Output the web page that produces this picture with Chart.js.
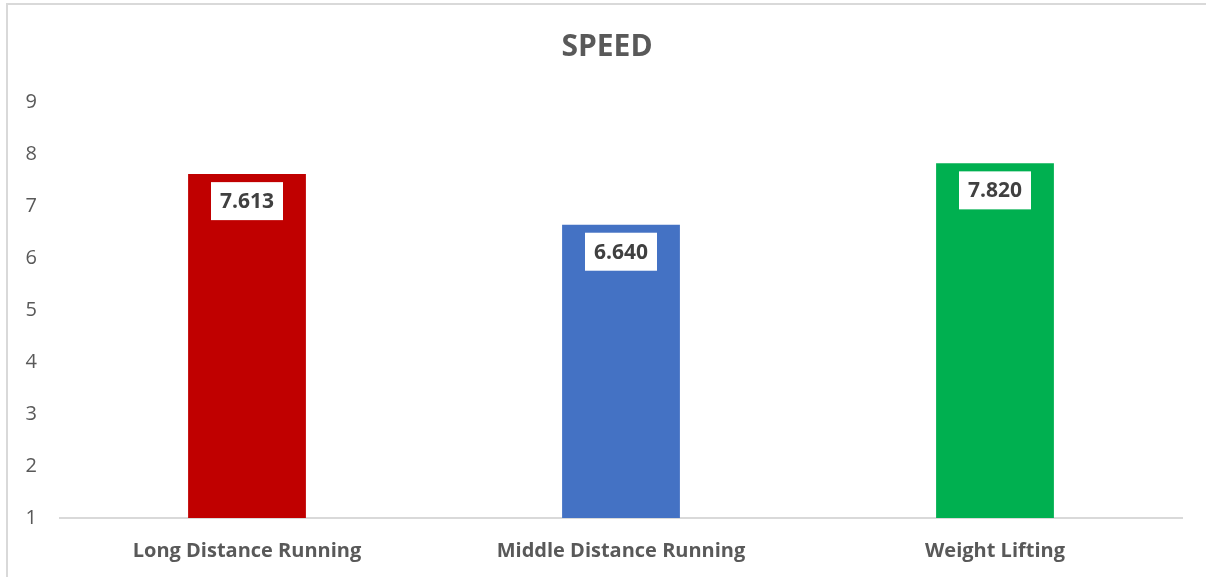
<!DOCTYPE html>
<html>
<head>
<meta charset="utf-8">
<script src="https://cdn.jsdelivr.net/npm/chart.js@4/dist/chart.umd.min.js"></script>
<style>
  html, body { margin: 0; padding: 0; background: #fff; }
  #wrap { width: 1206px; height: 577px; position: relative; }
</style>
</head>
<body>
<div id="wrap"><canvas id="speedChart"></canvas></div>
<script>
const chartTitle = "SPEED";
const categories = ["Long Distance Running", "Middle Distance Running", "Weight Lifting"];
const speeds = [7.613, 6.640, 7.820];
const barColors = ["#C00000", "#4472C4", "#00B050"];
const yTicks = [1, 2, 3, 4, 5, 6, 7, 8, 9];

const fontFamily = "'Open Sans', sans-serif";

// frame of the chart box (only top and left edges show in the crop) + title
const framePlugin = {
  id: "frame",
  beforeDraw(chart) {
    const c = chart.ctx;
    c.save();
    c.strokeStyle = "#d9d9d9";
    c.lineWidth = 2;
    c.strokeRect(7, 4, 1400, 800);
    // title is centred on the whole chart box, which runs past the crop
    c.fillStyle = "#595959";
    c.font = "bold 30px " + fontFamily;
    c.textAlign = "center";
    c.textBaseline = "middle";
    c.fillText(chartTitle, 607, 47);
    c.restore();
  }
};

// value labels in white boxes near the top of each bar
const valueLabels = {
  id: "valueLabels",
  afterDatasetsDraw(chart) {
    const c = chart.ctx;
    const meta = chart.getDatasetMeta(0);
    c.save();
    c.font = "bold 21px " + fontFamily;
    c.textAlign = "center";
    c.textBaseline = "middle";
    meta.data.forEach((bar, i) => {
      const txt = speeds[i].toFixed(3);
      const w = 72, h = 38;
      const top = bar.y + 8;
      c.fillStyle = "#ffffff";
      c.fillRect(bar.x - w / 2, top, w, h);
      c.fillStyle = "#404040";
      c.fillText(txt, bar.x, top + h / 2 + 1);
    });
    c.restore();
  }
};

new Chart(document.getElementById("speedChart").getContext("2d"), {
  type: "bar",
  data: {
    labels: categories,
    datasets: [{
      data: speeds,
      backgroundColor: barColors,
      borderWidth: 0,
      categoryPercentage: 1,
      barPercentage: 0.315
    }]
  },
  options: {
    responsive: true,
    maintainAspectRatio: false,
    animation: false,
    layout: { padding: { left: 7, right: 24, top: 102, bottom: 0 } },
    plugins: {
      legend: { display: false },
      tooltip: { enabled: false },
      title: { display: false }
    },
    scales: {
      x: {
        grid: { display: false },
        border: { display: true, color: "#d9d9d9", width: 2 },
        ticks: {
          color: "#595959",
          padding: 13,
          font: { family: fontFamily, size: 20, weight: "bold" }
        },
        afterFit(scale) { scale.height = 59; }
      },
      y: {
        min: yTicks[0],
        max: yTicks[yTicks.length - 1],
        grid: { display: false },
        border: { display: false },
        afterBuildTicks(scale) { scale.ticks = yTicks.map(v => ({ value: v })); },
        ticks: {
          color: "#595959",
          padding: 15,
          font: { family: fontFamily, size: 20 }
        },
        afterFit(scale) { scale.width = 53; }
      }
    }
  },
  plugins: [framePlugin, valueLabels]
});
</script>
</body>
</html>
